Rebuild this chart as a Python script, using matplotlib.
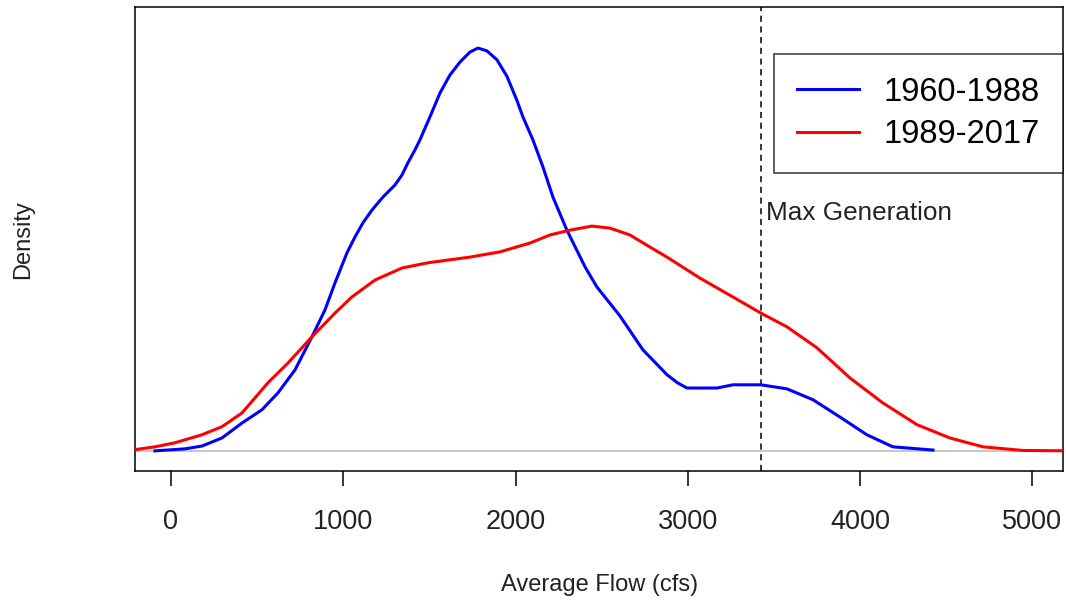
import numpy as np
import matplotlib.pyplot as plt

plt.rcParams['font.family'] = ['Liberation Sans', 'DejaVu Sans']

# density estimates (relative density, blue peak = 1)
early_flow = [-93, 81, 180, 296, 412, 528, 621, 720, 818, 894, 952, 1021, 1068,
              1114, 1167, 1230, 1300, 1341, 1375, 1416, 1445, 1503, 1561, 1619,
              1677, 1735, 1782, 1834, 1892, 1950, 2008, 2043, 2101, 2159, 2217,
              2298, 2403, 2472, 2606, 2739, 2879, 2940, 2995, 3169, 3262, 3424,
              3575, 3726, 3883, 4039, 4190, 4423]
early_dens = [0.0, 0.005, 0.012, 0.032, 0.069, 0.102, 0.144, 0.201, 0.283, 0.350,
              0.417, 0.491, 0.531, 0.566, 0.598, 0.630, 0.660, 0.685, 0.715, 0.747,
              0.772, 0.829, 0.888, 0.933, 0.965, 0.990, 1.000, 0.993, 0.971, 0.930,
              0.870, 0.829, 0.772, 0.705, 0.630, 0.548, 0.457, 0.407, 0.335, 0.251,
              0.189, 0.169, 0.156, 0.156, 0.164, 0.164, 0.154, 0.127, 0.084, 0.040,
              0.010, 0.002]

late_flow = [-260, -209, -93, 23, 180, 296, 412, 563, 679, 818, 952, 1050, 1184,
             1341, 1492, 1648, 1735, 1909, 2084, 2200, 2316, 2443, 2548, 2664,
             2780, 2879, 3070, 3262, 3424, 3575, 3749, 3941, 4132, 4330, 4521,
             4713, 4945, 5250]
late_dens = [0.002, 0.003, 0.010, 0.020, 0.040, 0.060, 0.094, 0.169, 0.218, 0.283,
             0.342, 0.382, 0.424, 0.454, 0.467, 0.476, 0.481, 0.494, 0.516, 0.536,
             0.548, 0.558, 0.553, 0.536, 0.506, 0.481, 0.429, 0.382, 0.342, 0.308,
             0.256, 0.181, 0.119, 0.065, 0.032, 0.010, 0.001, 0.0]

labels = ['1960-1988', '1989-2017']
max_gen = 3424
xticks = [0, 1000, 2000, 3000, 4000, 5000]

fig = plt.figure(figsize=(10.66, 6.03), dpi=100)
ax = fig.add_axes([0.1266, 0.2189, 0.8705, 0.7695])

ax.axhline(0, color='#bebebe', lw=1.2, zorder=1)
ax.plot(early_flow, early_dens, color='#0000ff', lw=2.2, label=labels[0], zorder=3)
ax.plot(late_flow, late_dens, color='#ff0000', lw=2.2, label=labels[1], zorder=3)
ax.axvline(max_gen, color='black', lw=1.1, dashes=(4, 3), zorder=2)
ax.text(max_gen + 30, 0.59, 'Max Generation', fontsize=18.8, va='center', ha='left',
        color='#222222')

ax.set_xlim(-209, 5177)
ax.set_ylim(-0.050, 1.102)
ax.set_xticks(xticks)
ax.set_xticklabels([str(t) for t in xticks])
ax.set_yticks([])
ax.tick_params(axis='x', length=11, width=1.1, pad=16, labelsize=19.5,
               labelcolor='#222222')
for s in ax.spines.values():
    s.set_linewidth(1.1)
    s.set_color('black')

leg = ax.legend(loc='upper right', bbox_to_anchor=(1.0, 0.899), borderaxespad=0,
                fontsize=23.5, frameon=True, fancybox=False, edgecolor='black',
                handlelength=1.9, handletextpad=0.75, borderpad=0.7,
                labelspacing=0.36)
leg.get_frame().set_linewidth(1.1)

fig.text(0.562, 0.030, 'Average Flow (cfs)', fontsize=17, ha='center', va='center',
         color='#222222')
fig.text(0.0216, 0.602, 'Density', fontsize=17, ha='center', va='center',
         rotation=90, color='#222222')

fig.savefig('out.png', dpi=100)
